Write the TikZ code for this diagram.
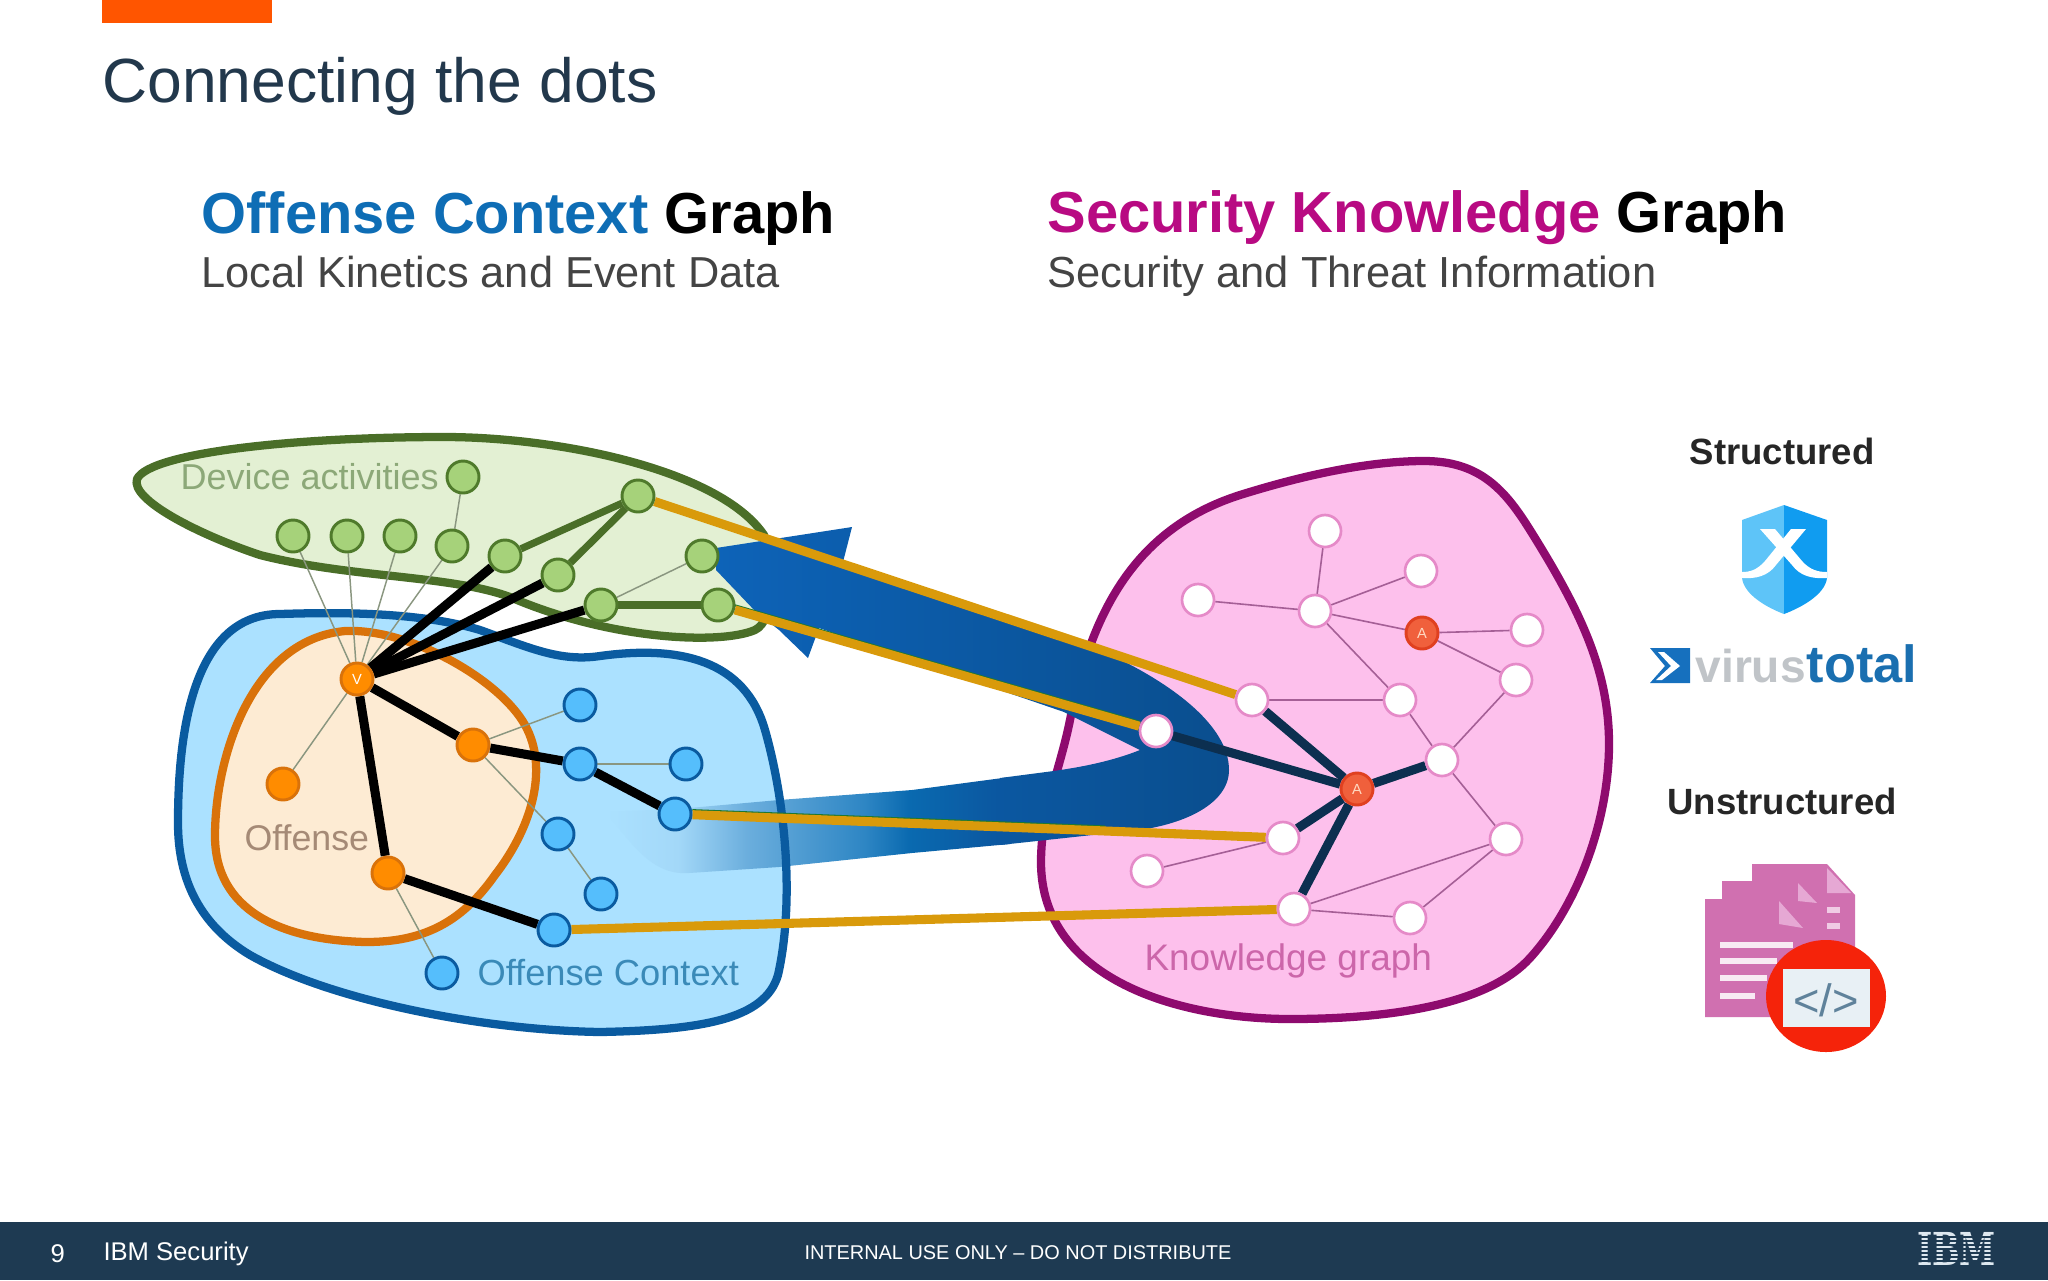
\documentclass[tikz,border=0pt]{standalone}
\usepackage{fontspec}
\setmainfont{Liberation Sans}
\newfontfamily\ibmfont{DejaVu Serif}
\definecolor{navy}{HTML}{1E3A52}
\definecolor{titlec}{HTML}{22384C}
\definecolor{orangebar}{HTML}{FF5500}
\definecolor{ocblue}{HTML}{0E6DB5}
\definecolor{skmag}{HTML}{B80A82}
\definecolor{subgray}{HTML}{444444}
\definecolor{greenfill}{HTML}{E3F0D3}
\definecolor{greenline}{HTML}{4A6E28}
\definecolor{bluefill}{HTML}{ABE1FF}
\definecolor{blueline}{HTML}{0A5BA0}
\definecolor{offfill}{HTML}{FDEBD3}
\definecolor{offline}{HTML}{D9720A}
\definecolor{pinkfill}{HTML}{FDC0EC}
\definecolor{pinkline}{HTML}{8E0A6E}
\definecolor{gold}{HTML}{D99A0B}
\definecolor{darkedge}{HTML}{0C2F50}
\definecolor{ribA}{HTML}{ABE1FF}
\definecolor{ribB}{HTML}{A3D8F8}
\definecolor{ribC}{HTML}{6BAEDD}
\definecolor{ribD}{HTML}{2E86C4}
\definecolor{ribE}{HTML}{0A6AB0}
\definecolor{ribF}{HTML}{0B57A0}
\definecolor{docpink}{HTML}{D070B0}
\definecolor{docfold}{HTML}{E6A8D4}
\pgfdeclarehorizontalshading{ribfade}{100bp}{color(0bp)=(ribA); color(25bp)=(ribA); color(34bp)=(ribB); color(42.5bp)=(ribC); color(57bp)=(ribD); color(62.5bp)=(ribE); color(73.5bp)=(ribF); color(100bp)=(ribF)}
\pgfdeclarelayer{bglayer}
\pgfdeclarelayer{midlayer}
\pgfsetlayers{bglayer,midlayer,main}
\tikzset{
  blob/.style={line width=3.1pt,line join=round},
  dot/.style={circle,minimum size=12pt,inner sep=0pt,line width=1.1pt},
  gnode/.style={dot,fill={rgb,255:red,166;green,210;blue,122},draw={rgb,255:red,79;green,122;blue,43}},
  bnode/.style={dot,fill={rgb,255:red,85;green,190;blue,252},draw=blueline},
  onode/.style={dot,fill={rgb,255:red,255;green,140;blue,0},draw=offline},
  pnode/.style={dot,fill=white,draw={rgb,255:red,229;green,138;blue,200},line width=1pt},
  rnode/.style={dot,fill={rgb,255:red,240;green,96;blue,60},draw={rgb,255:red,224;green,64;blue,32},text={rgb,255:red,255;green,216;blue,192},font=\fontsize{5.5}{5.5}\selectfont},
  thin edge/.style={line width=.55pt,draw={rgb,255:red,138;green,150;blue,128}},
  pink edge/.style={line width=.6pt,draw={rgb,255:red,165;green,95;blue,150}},
  black edge/.style={line width=3.4pt,draw=black},
  green edge/.style={line width=2.7pt,draw=greenline},
  dark edge/.style={line width=3.4pt,draw=darkedge},
  gold edge/.style={line width=3.4pt,draw=gold},
  gold rim/.style={line width=.8pt,draw={rgb,255:red,30;green,120;blue,50},transform canvas={yshift=1.7pt}},
  txt/.style={inner sep=0pt,anchor=west},
}
\newcommand\fsz[1]{\fontsize{#1}{#1}\selectfont}
\newcommand\greenblob{(137,479) .. controls (150,452) and (300,437) .. (444,437)
 .. controls (560,437) and (720,470) .. (764,535)
 .. controls (775,570) and (775,620) .. (755,630)
 .. controls (720,645) and (610,640) .. (510,597)
 .. controls (450,575) and (350,578) .. (260,555)
 .. controls (200,535) and (130,500) .. (137,479) -- cycle}
\newcommand\blueblob{(178,823) .. controls (178,740) and (190,614) .. (280,614)
 .. controls (340,612) and (420,612) .. (480,630)
 .. controls (530,648) and (560,662) .. (600,656)
 .. controls (680,645) and (745,660) .. (765,730)
 .. controls (785,800) and (795,900) .. (778,975)
 .. controls (765,1020) and (700,1030) .. (600,1032)
 .. controls (480,1030) and (330,1000) .. (250,955)
 .. controls (200,925) and (178,880) .. (178,823) -- cycle}
\newcommand\offblob{(215,836) .. controls (215,760) and (250,640) .. (345,631)
 .. controls (410,628) and (500,680) .. (525,725)
 .. controls (550,770) and (530,830) .. (495,875)
 .. controls (460,925) and (420,942) .. (366,942)
 .. controls (280,940) and (215,910) .. (215,836) -- cycle}
\newcommand\pinkblob{(1041,862) .. controls (1041,810) and (1060,770) .. (1070,720)
 .. controls (1090,620) and (1130,530) .. (1240,495)
 .. controls (1320,470) and (1380,461) .. (1424,461)
 .. controls (1480,461) and (1505,490) .. (1530,530)
 .. controls (1580,610) and (1609,670) .. (1609,744)
 .. controls (1609,820) and (1578,905) .. (1530,958)
 .. controls (1490,1002) and (1400,1019) .. (1290,1019)
 .. controls (1180,1019) and (1041,980) .. (1041,862) -- cycle}
\begin{document}
\begin{tikzpicture}[x=.375pt,y=-.375pt]
\useasboundingbox (0,0) rectangle (2048,1280);
% header
\fill[orangebar] (102,0) rectangle (272,23);
\node[txt,text=titlec,font=\fsz{23.4}] (title) at (102,86) {Connecting the dots};
\node[txt,font=\fsz{21.7}\bfseries] (h1) at (201,219) {\textcolor{ocblue}{Offense Context} Graph};
\node[txt,text=subgray,font=\fsz{16.25}] (s1) at (201,272) {Local Kinetics and Event Data};
\node[txt,font=\fsz{21.7}\bfseries] (h2) at (1047,218) {\textcolor{skmag}{Security Knowledge} Graph};
\node[txt,text=subgray,font=\fsz{16.3}] (s2) at (1047,276) {Security and Threat Information};
% nodes : green
\node[gnode] (g0) at (463,477) {};
\node[gnode] (g1) at (293,536) {};
\node[gnode] (g2) at (347,536) {};
\node[gnode] (g3) at (400,536) {};
\node[gnode] (g4) at (452,546) {};
\node[gnode] (g5) at (505,556) {};
\node[gnode] (g6) at (558,575) {};
\node[gnode] (g7) at (638,496) {};
\node[gnode] (g8) at (702,556) {};
\node[gnode] (g9) at (601,605) {};
\node[gnode] (g10) at (718,605) {};
% orange
\node[onode,text=white,font=\fsz{5.5}] (v) at (357,679) {V};
\node[onode] (o1) at (283,784) {};
\node[onode] (o2) at (473,745) {};
\node[onode] (o3) at (388,873) {};
% blue
\node[bnode] (b1) at (580,705) {};
\node[bnode] (b2) at (580,764) {};
\node[bnode] (b3) at (686,764) {};
\node[bnode] (b4) at (675,814) {};
\node[bnode] (b5) at (558,834) {};
\node[bnode] (b6) at (601,894) {};
\node[bnode] (b7) at (554,930) {};
\node[bnode] (b8) at (442,973) {};
% knowledge graph
\node[pnode] (p1) at (1325,531) {};
\node[pnode] (p2) at (1421,571) {};
\node[pnode] (p3) at (1198,600) {};
\node[pnode] (p4) at (1315,611) {};
\node[rnode] (a1) at (1422,633) {A};
\node[pnode] (p5) at (1527,630) {};
\node[pnode] (p6) at (1516,680) {};
\node[pnode] (p7) at (1252,700) {};
\node[pnode] (p8) at (1400,700) {};
\node[pnode] (p9) at (1156,731) {};
\node[pnode] (p10) at (1442,760) {};
\node[rnode] (a2) at (1357,789) {A};
\node[pnode] (p11) at (1283,838) {};
\node[pnode] (p12) at (1506,839) {};
\node[pnode] (p13) at (1147,871) {};
\node[pnode] (p14) at (1294,909) {};
\node[pnode] (p15) at (1410,918) {};
% labels
\node[txt,text={rgb,255:red,140;green,168;blue,120},font=\fsz{13.5}] (ldev) at (180,477) {Device activities};
\node[txt,text={rgb,255:red,165;green,138;blue,118},font=\fsz{13.4}] (loff) at (244,838) {Offense};
\node[txt,text={rgb,255:red,58;green,138;blue,184},font=\fsz{13.6}] (lctx) at (477,973) {Offense Context};
\node[txt,text={rgb,255:red,204;green,102;blue,170},font=\fsz{13.85}] (lkg) at (1144,961) {Knowledge graph};
\begin{pgfonlayer}{bglayer}
  \path[blob,fill=greenfill,draw=greenline] \greenblob;
  \path[blob,fill=pinkfill,draw=pinkline] \pinkblob;
  \path[fill=bluefill] \blueblob;
  % fading lower arm of the ribbon
  \path[shading=ribfade] (605,812) .. controls (640,810) and (665,810) .. (689,808) -- (779,800) -- (912,790) -- (1010,777) -- (1010,844) -- (912,853) -- (779,867) -- (689,873) .. controls (650,876) and (630,840) .. (605,812) -- cycle;
  % upper arm with arrowhead
  \path[left color={rgb,255:red,13;green,99;blue,184},right color={rgb,255:red,10;green,78;blue,142}]
    (716,548) -- (852,527) -- (843,562) -- (1091,646) .. controls (1170,680) and (1229,725) .. (1229,770)
    .. controls (1229,805) and (1180,828) .. (1120,832) -- (1000,845) -- (1000,778) -- (1046,772)
    .. controls (1085,767) and (1115,760) .. (1140,750) -- (1064,712) -- (819,628) -- (808,658) -- (779,630) -- (756,612) -- (716,570) -- cycle;
  \path[blob,draw=blueline] \blueblob;
  \path[blob,fill=offfill,draw=offline] \offblob;
\end{pgfonlayer}
\begin{pgfonlayer}{midlayer}
  % device / offense thin links
  \foreach \a/\b in {g0/g4,g1/v,g2/v,g3/v,g4/v,g9/g8,o1/v,o2/b1,o2/b5,b5/b6,o3/b8,b2/b3}
    \draw[thin edge] (\a) -- (\b);
  \foreach \a/\b in {g5/g7,g6/g7,g9/g10}
    \draw[green edge] (\a) -- (\b);
  \foreach \a/\b in {v/g5,v/g6,v/g9,v/o2,v/o3,o2/b2,b2/b4,o3/b7}
    \draw[black edge] (\a) -- (\b);
  % knowledge links
  \foreach \a/\b in {p1/p4,p2/p4,p3/p4,p4/a1,p4/p8,a1/p5,a1/p6,p6/p10,p8/p10,p7/p8,p10/p12,p12/p14,p12/p15,p14/p15,p11/p13}
    \draw[pink edge] (\a) -- (\b);
  \foreach \a/\b in {p7/a2,p9/a2,p10/a2,p11/a2,p14/a2}
    \draw[dark edge] (\a) -- (\b);
  % gold links
  \path (b4) -- (p11) coordinate[pos=.72] (rimend);
  \draw[gold rim] (g10) -- (p9);
  \draw[gold rim] (b4) -- (rimend);
  \draw[gold edge] (g7) -- (p7);
  \draw[gold edge] (g10) -- (p9);
  \draw[gold edge] (b4) -- (p11);
  \draw[gold edge] (b7) -- (p14);
\end{pgfonlayer}
% right column
\node[text=black!85,font=\fsz{13.7}\bfseries] (struct) at (1782,451) {Structured};
\node[text=black!85,font=\fsz{13.7}\bfseries] (unstruct) at (1782,801) {Unstructured};
% shield
\fill[fill={rgb,255:red,94;green,196;blue,248}] (1784,505) -- (1742,520) -- (1742,578) .. controls (1744,595) and (1768,608) .. (1784,614) -- cycle;
\fill[fill={rgb,255:red,16;green,156;blue,240}] (1784,505) -- (1827,520) -- (1827,578) .. controls (1825,595) and (1800,608) .. (1784,614) -- cycle;
\fill[white] (1760,529) -- (1775,529) -- (1802,561) .. controls (1810,570) and (1818,572) .. (1827,572) -- (1827,578) .. controls (1812,579) and (1800,576) .. (1792,565) -- cycle;
\fill[white] (1806,529) -- (1791,529) -- (1765,561) .. controls (1757,570) and (1750,572) .. (1742,572) -- (1742,578) .. controls (1756,579) and (1768,576) .. (1776,565) -- cycle;
% virustotal
\fill[fill={rgb,255:red,22;green,112;blue,190}] (1650,648) -- (1690,648) -- (1690,683) -- (1650,683) -- (1665,666) -- cycle;
\fill[white] (1658,652) -- (1664,652) -- (1680,666) -- (1662,680) -- (1656,680) -- (1671,666) -- cycle;
\node[txt,text={rgb,255:red,192;green,196;blue,200},font=\fsz{17.3}\bfseries] (vir) at (1695,666) {virus};
\node[txt,text={rgb,255:red,26;green,111;blue,176},font=\fsz{19.6}\bfseries,anchor=base west] (tot) at (vir.base east) {total};
% documents
\fill[docpink] (1705,899) -- (1722,899) -- (1722,881) -- (1752,881) -- (1752,864) -- (1827,864) -- (1855,895) -- (1855,960) -- (1800,1017) -- (1705,1017) -- cycle;
\fill[docfold] (1827,868) -- (1851,893) -- (1827,893) -- cycle;
\fill[docfold] (1798,883) -- (1817,903) -- (1798,901) -- cycle;
\fill[docfold] (1779,901) -- (1803,928) -- (1779,924) -- cycle;
\fill[docfold!60!white] (1827,907) rectangle (1840,913);
\fill[docfold!60!white] (1827,923) rectangle (1840,929);
\fill[white!85!docpink] (1720,942) rectangle (1793,948);
\fill[white!85!docpink] (1720,958) rectangle (1777,964);
\fill[white!85!docpink] (1720,975) rectangle (1767,981);
\fill[white!85!docpink] (1720,993) rectangle (1755,999);
\fill[fill={rgb,255:red,245;green,35;blue,10}] (1826,996) ellipse (60 and 56);
\fill[fill={rgb,255:red,232;green,240;blue,245}] (1783,969) rectangle (1870,1027);
\node[text={rgb,255:red,95;green,130;blue,155},font=\fsz{17}] (code) at (1826,1000) {</>};
% footer
\fill[navy] (0,1222) rectangle (2048,1280);
\node[txt,text=white,font=\fsz{9.6}] (num) at (50,1254) {9};
\node[txt,text=white,font=\fsz{9.6}] (sec) at (103,1254) {IBM Security};
\node[txt,text=white,font=\fsz{7.47}] (conf) at (804,1253) {INTERNAL USE ONLY – DO NOT DISTRIBUTE};
\node[text={rgb,255:red,222;green,232;blue,240},font=\ibmfont\fsz{17}\bfseries,xscale=.72,inner sep=0pt] (ibm) at (1956.5,1249) {IBM};
\foreach \yy in {1237,1241,1245,1249,1253,1257,1261}
  \draw[navy,line width=.5pt] (1912,\yy) -- (2001,\yy);
\end{tikzpicture}
\end{document}
